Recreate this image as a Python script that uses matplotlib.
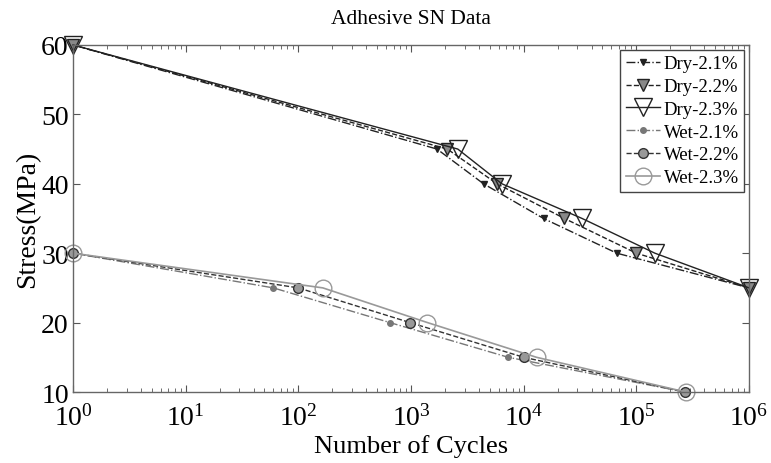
import matplotlib
matplotlib.use("Agg")
import matplotlib.pyplot as plt

plt.rcParams['font.family'] = ['Liberation Serif', 'DejaVu Serif']
plt.rcParams['mathtext.fontset'] = 'stix'

dry21_n = [1, 1700, 4400, 15000, 67000, 1000000]
dry21_s = [60, 45, 40, 35, 30, 25]
dry22_n = [1, 2100, 5800, 23000, 100000, 1000000]
dry22_s = [60, 45, 40, 35, 30, 25]
dry23_n = [1, 2600, 6400, 33000, 146000, 1000000]
dry23_s = [60, 45, 40, 35, 30, 25]
wet21_n = [1, 60, 650, 7300, 270000]
wet21_s = [30, 25, 20, 15, 10]
wet22_n = [1, 100, 980, 10000, 270000]
wet22_s = [30, 25, 20, 15, 10]
wet23_n = [1, 165, 1400, 13000, 275000]
wet23_s = [30, 25, 20, 15, 10]

fig = plt.figure(figsize=(7.71, 4.64), dpi=100)
ax = fig.add_axes([0.0947, 0.153, 0.8768, 0.748])

ax.plot(dry21_n, dry21_s, color='#222222', ls='-.', lw=1.0, marker='v', ms=5,
        mfc='#222222', mec='#222222', label='Dry-2.1%', clip_on=False)
ax.plot(dry22_n, dry22_s, color='#222222', ls='--', lw=1.0, marker='v', ms=8,
        mfc='#888888', mec='#222222', label='Dry-2.2%', clip_on=False)
ax.plot(dry23_n, dry23_s, color='#222222', ls='-', lw=1.0, marker='v', ms=13,
        mfc='none', mec='#222222', label='Dry-2.3%', clip_on=False)
ax.plot(wet21_n, wet21_s, color='#777777', ls='-.', lw=1.0, marker='o', ms=4,
        mfc='#777777', mec='#777777', label='Wet-2.1%', clip_on=False)
ax.plot(wet22_n, wet22_s, color='#333333', ls='--', lw=1.0, marker='o', ms=7,
        mfc='#999999', mec='#333333', label='Wet-2.2%', clip_on=False)
ax.plot(wet23_n, wet23_s, color='#999999', ls='-', lw=1.2, marker='o', ms=12,
        mfc='none', mec='#999999', label='Wet-2.3%', clip_on=False)

ax.set_xscale('log')
ax.set_xlim(1, 1e6)
ax.set_ylim(10, 60)
ax.set_yticks([10, 20, 30, 40, 50, 60])
ax.tick_params(which='both', direction='in', top=True, right=True,
               labelsize=20, color='#555555')
ax.tick_params(axis='x', pad=9)
ax.tick_params(axis='y', pad=3)
ax.tick_params(which='major', length=5)
ax.tick_params(which='minor', length=3)
for sp in ax.spines.values():
    sp.set_color('#666666')
    sp.set_linewidth(1.0)

ax.set_xlabel('Number of Cycles', fontsize=19, labelpad=2)
ax.set_ylabel('Stress(MPa)', fontsize=20, labelpad=1)
ax.set_title('Adhesive SN Data', fontsize=15.5, pad=16)

leg = ax.legend(loc='upper right', fontsize=13.5, frameon=True, fancybox=False,
                edgecolor='#444444', framealpha=1, handlelength=1.8,
                handletextpad=0.2, borderpad=0.3, labelspacing=0.3,
                borderaxespad=0.25)
leg.get_frame().set_linewidth(1.0)
leg.set_zorder(5)

fig.savefig('out.png', dpi=100)
